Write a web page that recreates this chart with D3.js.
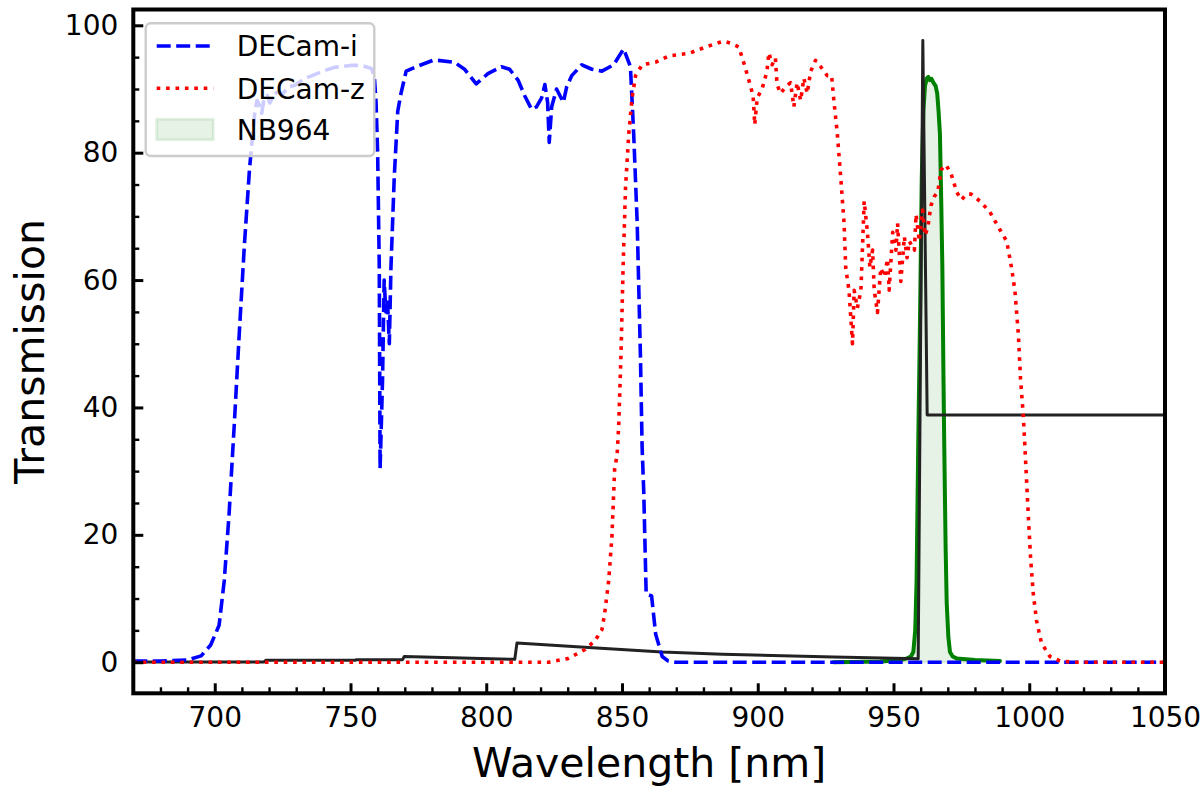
<!DOCTYPE html>
<html>
<head>
<meta charset="utf-8">
<script src="https://cdn.jsdelivr.net/npm/d3@7"></script>
<style>
  html, body { margin: 0; padding: 0; background: #fff; }
  svg { display: block; font-family: "DejaVu Sans", sans-serif; }
</style>
</head>
<body>
<svg id="chart" width="1200" height="799"></svg>
<script>
// ---------------- DATA ----------------
const xMajorTicks = [700, 750, 800, 850, 900, 950, 1000, 1050];
const yMajorTicks = [0, 20, 40, 60, 80, 100];
const legendLabels = ["DECam-i", "DECam-z", "NB964"];

const decamIWave = [670, 680, 690, 695, 698.5, 701.6, 703.5, 705.3, 707.2, 709, 710.9, 712.8, 714, 714.8, 715.6, 716.5, 717.3, 718.2, 719.3, 720.3, 721.5, 723, 725, 727, 729.6, 733, 737, 740.5, 744.3, 750, 754, 757.8, 758.8, 759.4, 760, 760.6, 760.9, 761.4, 761.8, 762.4, 763, 763.6, 764.3, 764.9, 766.1, 767.4, 768.6, 770.5, 774.2, 780.4, 782, 788.3, 792, 796.3, 800.6, 805.6, 808.6, 811.7, 814.2, 816.7, 818.5, 820.4, 821.6, 822.6, 823.2, 824.1, 825.9, 827.2, 828.4, 829.6, 831.5, 835.2, 838.9, 842.6, 846.9, 850.6, 853.1, 854.3, 855.6, 856.8, 857.4, 858, 858.9, 860.9, 862.4, 864.8, 867, 869.8, 1050];
const decamIT    = [0.2, 0.2, 0.35, 1, 2.7, 5.8, 12.8, 23.4, 37.4, 51.4, 65.4, 77.4, 83, 86.5, 88.2, 87.4, 86.2, 88.6, 89, 87.8, 89, 89.5, 89.2, 90.3, 90.6, 91.6, 92.3, 92.9, 93.4, 93.7, 93.7, 93.2, 91.8, 88, 80, 62, 30.4, 38, 44.4, 60, 55, 57, 50, 62, 76, 86.5, 89.3, 92.8, 93.5, 94.5, 94.5, 94.2, 93.1, 90.8, 92.4, 93.5, 93.1, 91.4, 88.9, 86.8, 87.2, 88.6, 90.7, 87.9, 81.6, 87.2, 90, 88.9, 87.9, 90.3, 92.1, 93.8, 93.1, 92.8, 93.8, 96.3, 93.5, 83, 68.9, 47.9, 33.9, 26.9, 10.7, 10.4, 4.4, 0.9, 0.2, 0, 0];

const decamZWave = [670, 823, 830.3, 836.4, 840.1, 842.6, 843.6, 845.1, 846.3, 847.3, 848.2, 848.8, 849.6, 850.4, 851.3, 852.5, 853.7, 855, 857.4, 862.4, 867.3, 874.7, 880.9, 885, 887.4, 889.9, 893, 894.8, 896.7, 898.3, 898.9, 899.8, 901.6, 903.4, 904.1, 905.3, 906.5, 907.1, 908.4, 910.2, 912.1, 913.3, 914.5, 915.8, 917, 918.2, 919.5, 921.3, 923.2, 925.6, 927.2, 928.1, 929.3, 930.6, 931.8, 932.4, 933.6, 934.9, 935.5, 936.7, 938, 939.2, 940.4, 941.3, 942.3, 942.9, 944.1, 945.3, 946.6, 947.8, 948.4, 949.7, 950.9, 951.5, 952.7, 954, 955, 955.8, 957.7, 958.3, 959.5, 960.7, 961.6, 962.6, 963.8, 965, 966.3, 967.5, 969.3, 971.2, 973.3, 975, 977, 978.6, 981.8, 985.5, 989.2, 991.7, 993.5, 994.7, 996, 996.8, 997.8, 998.8, 999.6, 1000.5, 1001.5, 1002.7, 1004.5, 1007.6, 1011.3, 1016, 1050];
const decamZT    = [0, 0, 0.6, 2, 3.4, 5.1, 7.6, 12.8, 19.8, 30.4, 32.5, 37.4, 47.9, 61.9, 74.5, 83, 88.6, 92.1, 93.8, 94.2, 95.2, 95.6, 96.6, 97.2, 97.5, 97.2, 96.6, 94.2, 91.4, 88.9, 84.4, 88.6, 90, 92.8, 95.7, 93.8, 94.9, 90.7, 89.3, 90.3, 91, 87.2, 91, 88.2, 91.7, 89.3, 92.8, 94.5, 93.5, 92.1, 92.1, 87.9, 83, 75.9, 68.9, 61.9, 58.4, 50, 58.4, 55.6, 58.4, 72.4, 67.5, 62, 64.7, 58.4, 54.9, 61.9, 60.5, 63.3, 58.4, 67.5, 64.7, 68.9, 59.8, 66.8, 63.5, 66.1, 64.7, 70.3, 66.1, 71, 67, 68.2, 71.7, 73.1, 73.8, 77.3, 78.1, 76.7, 73.8, 72.6, 73.5, 73.5, 72.4, 70.7, 67.9, 66.1, 61.9, 58.4, 51.4, 44.4, 38.8, 30.4, 23.4, 16.3, 10.7, 6.5, 3, 0.9, 0.2, 0, 0];

const nb964Wave = [928, 945, 952, 955, 956.4, 957.3, 958, 958.5, 959.1, 959.8, 960.4, 961, 961.6, 962.3, 962.8, 963.4, 964, 964.7, 965.5, 966.1, 966.6, 967.1, 967.6, 968, 968.4, 968.7, 969.2, 969.6, 970.2, 970.8, 971.8, 973.3, 980, 989.2];
const nb964T    = [0, 0.1, 0.3, 0.6, 0.9, 1.6, 5, 12.8, 33.9, 54.9, 75.9, 86.5, 90.5, 91.7, 91.9, 91.4, 91.6, 91, 90.5, 89.3, 86.5, 83, 72, 61.9, 45, 33.9, 18, 9.3, 4, 1.6, 0.9, 0.6, 0.35, 0.2];

const lineWave = [670, 718.2, 718.8, 751.7, 752.2, 769.2, 769.8, 810.5, 811.3, 837.7, 864.8, 887, 928, 959.1, 960.8, 962.4, 1050];
const lineT    = [0.05, 0.05, 0.3, 0.3, 0.4, 0.4, 0.9, 0.45, 3.0, 2.3, 1.6, 1.26, 0.8, 0.56, 97.6, 38.8, 38.8];

// ---------------- LAYOUT ----------------
const svg = d3.select("#chart");
const L = 133.3, R = 1165, T = 9.5, B = 693.3;

const x = d3.scaleLinear().domain([670, 1050]).range([L, R]);
const y = d3.scaleLinear().domain([-4.88, 102.48]).range([B, T]);

svg.append("defs").append("clipPath").attr("id", "clip")
  .append("rect").attr("x", L).attr("y", T).attr("width", R - L).attr("height", B - T);

const zip = (w, v) => w.map((d, i) => [d, v[i]]);
const line = d3.line().x(d => x(d[0])).y(d => y(d[1]));
const plot = svg.append("g").attr("clip-path", "url(#clip)");

const blueDash = "14,5.5", redDash = "3.6,5.8";

// NB964 fill + line
const nbData = zip(nb964Wave, nb964T);
plot.append("path")
  .attr("d", d3.area().x(d => x(d[0])).y0(y(0)).y1(d => y(d[1]))(nbData))
  .attr("fill", "rgba(0,128,0,0.1)")
  .attr("stroke", "rgba(0,128,0,0.1)").attr("stroke-width", 2.8);
plot.append("path").attr("d", line(nbData))
  .attr("fill", "none").attr("stroke", "#008000").attr("stroke-width", 4)
  .attr("stroke-linejoin", "round").attr("stroke-linecap", "round");

// black line
plot.append("path").attr("d", line(zip(lineWave, lineT)))
  .attr("fill", "none").attr("stroke", "#222").attr("stroke-width", 3)
  .attr("stroke-linejoin", "round");

// DECam-i
plot.append("path").attr("d", line(zip(decamIWave, decamIT)))
  .attr("fill", "none").attr("stroke", "#0000ff").attr("stroke-width", 3.6)
  .attr("stroke-dasharray", blueDash).attr("stroke-linejoin", "round");

// DECam-z
plot.append("path").attr("d", line(zip(decamZWave, decamZT)))
  .attr("fill", "none").attr("stroke", "#ff0000").attr("stroke-width", 3.6)
  .attr("stroke-dasharray", redDash).attr("stroke-linejoin", "round");

// ---------------- AXES ----------------
const fontTick = 28;
function styleAxis(g) {
  g.select(".domain").remove();
  g.selectAll("text").attr("font-size", fontTick).attr("fill", "#000")
    .attr("font-family", "DejaVu Sans, sans-serif");
}
const xMinor = d3.range(670, 1051, 10).filter(v => !xMajorTicks.includes(v));
const yMinor = d3.range(0, 101, 5).filter(v => !yMajorTicks.includes(v));

svg.append("g").attr("transform", `translate(0,${B})`)
  .call(d3.axisBottom(x).tickValues(xMinor).tickSize(-6).tickFormat(""))
  .call(styleAxis).selectAll("line").attr("stroke", "#000").attr("stroke-width", 2.4);
svg.append("g").attr("transform", `translate(0,${B})`)
  .call(d3.axisBottom(x).tickValues(xMajorTicks).tickSize(-10).tickPadding(14).tickFormat(d3.format("d")))
  .call(styleAxis).selectAll("line").attr("stroke", "#000").attr("stroke-width", 3);

svg.append("g").attr("transform", `translate(${L},0)`)
  .call(d3.axisLeft(y).tickValues(yMinor).tickSize(-6).tickFormat(""))
  .call(styleAxis).selectAll("line").attr("stroke", "#000").attr("stroke-width", 2.4);
svg.append("g").attr("transform", `translate(${L},0)`)
  .call(d3.axisLeft(y).tickValues(yMajorTicks).tickSize(-10).tickPadding(15).tickFormat(d3.format("d")))
  .call(styleAxis).selectAll("line").attr("stroke", "#000").attr("stroke-width", 3);

// frame
svg.append("rect").attr("x", L).attr("y", T).attr("width", R - L).attr("height", B - T)
  .attr("fill", "none").attr("stroke", "#000").attr("stroke-width", 4);

// axis labels
svg.append("text").attr("x", (L + R) / 2).attr("y", 777).attr("text-anchor", "middle")
  .attr("font-size", 41).text("Wavelength [nm]");
svg.append("text").attr("transform", `translate(44,${(T + B) / 2}) rotate(-90)`)
  .attr("text-anchor", "middle").attr("font-size", 41).text("Transmission");

// ---------------- LEGEND ----------------
const lg = svg.append("g");
lg.append("rect").attr("x", 145.7).attr("y", 23.3).attr("width", 228.6).attr("height", 132.7)
  .attr("rx", 5).attr("ry", 5)
  .attr("fill", "rgba(255,255,255,0.8)").attr("stroke", "#cccccc").attr("stroke-width", 2.4);

const rowsY = [46, 88.3, 129.5];
const hx0 = 156.7, hx1 = 213.3;
lg.append("line").attr("x1", hx0).attr("x2", hx1).attr("y1", rowsY[0]).attr("y2", rowsY[0])
  .attr("stroke", "#0000ff").attr("stroke-width", 3.6).attr("stroke-dasharray", blueDash);
lg.append("line").attr("x1", hx0).attr("x2", hx1).attr("y1", rowsY[1]).attr("y2", rowsY[1])
  .attr("stroke", "#ff0000").attr("stroke-width", 3.6).attr("stroke-dasharray", redDash);
lg.append("rect").attr("x", hx0).attr("y", rowsY[2] - 10.3).attr("width", hx1 - hx0).attr("height", 20.6)
  .attr("fill", "rgba(0,128,0,0.1)").attr("stroke", "rgba(0,128,0,0.1)").attr("stroke-width", 2.8);

legendLabels.forEach((t, i) => {
  lg.append("text").attr("x", 236.7).attr("y", rowsY[i] + 10.3)
    .attr("font-size", 28).attr("fill", "#000").text(t);
});
</script>
</body>
</html>
